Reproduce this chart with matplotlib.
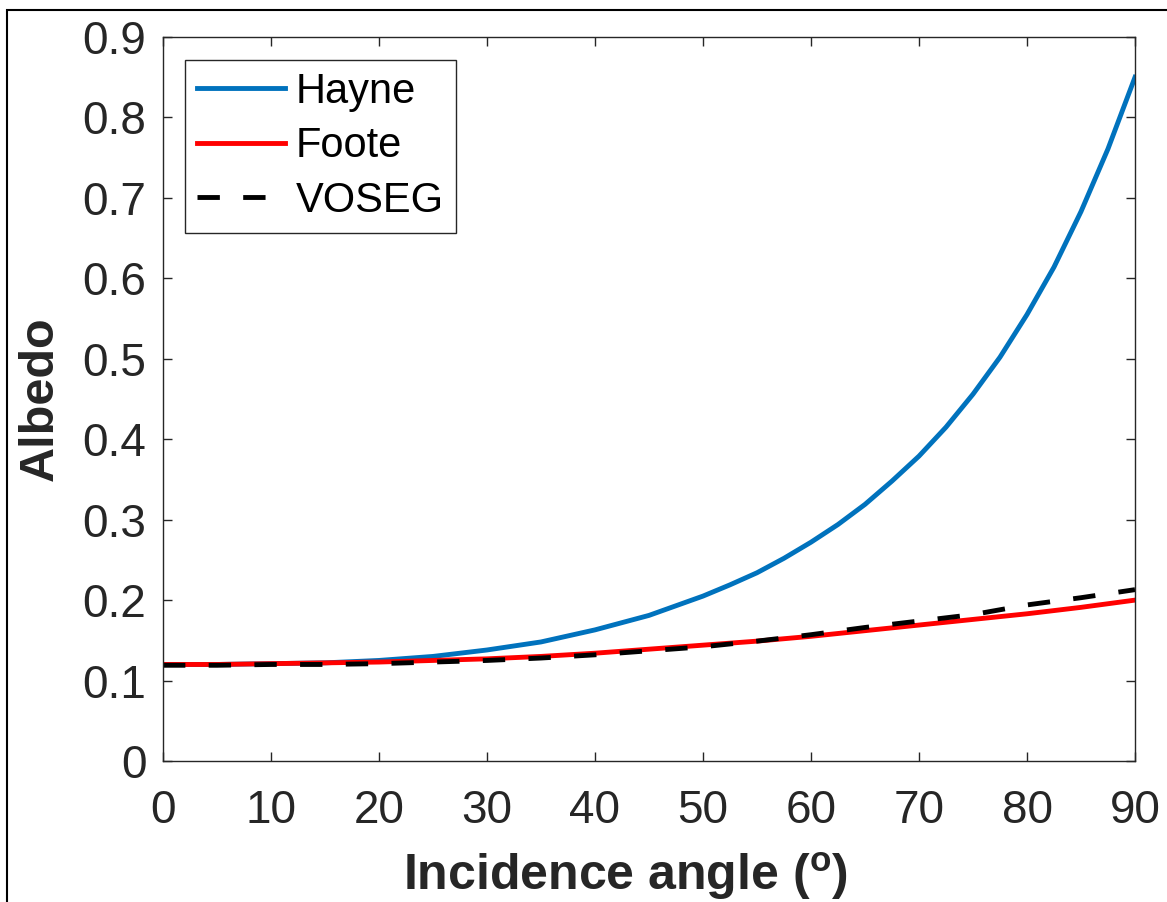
import matplotlib.pyplot as plt
from matplotlib.patches import Rectangle

plt.rcParams['font.family'] = ['Liberation Sans', 'DejaVu Sans']
plt.rcParams['mathtext.fontset'] = 'custom'
plt.rcParams['mathtext.bf'] = 'Liberation Sans:bold'
plt.rcParams['mathtext.rm'] = 'Liberation Sans'

# Incidence angle (deg) and albedo curves
angle = [0, 5, 10, 15, 20, 25, 30, 35, 40, 45, 50, 55, 60, 65, 70, 75, 80, 85, 90]
foote = [0.120, 0.120, 0.121, 0.122, 0.123, 0.125, 0.127, 0.130, 0.134, 0.139,
         0.144, 0.149, 0.155, 0.162, 0.169, 0.176, 0.183, 0.191, 0.200]
voseg = [0.119, 0.119, 0.120, 0.120, 0.121, 0.123, 0.125, 0.128, 0.132, 0.137,
         0.142, 0.149, 0.157, 0.166, 0.174, 0.182, 0.194, 0.203, 0.213]

# Hayne rises steeply, so it is read at a finer step
hayne_angle = [0, 5, 10, 15, 20, 25, 30, 35, 40, 45, 50, 52.5, 55, 57.5, 60,
               62.5, 65, 67.5, 70, 72.5, 75, 77.5, 80, 82.5, 85, 87.5, 90]
hayne = [0.120, 0.120, 0.121, 0.122, 0.125, 0.130, 0.138, 0.148, 0.163, 0.181,
         0.205, 0.219, 0.234, 0.252, 0.272, 0.294, 0.319, 0.348, 0.379, 0.415,
         0.456, 0.502, 0.555, 0.614, 0.683, 0.761, 0.850]

yticks = [0, 0.1, 0.2, 0.3, 0.4, 0.5, 0.6, 0.7, 0.8, 0.9]
xticks = [0, 10, 20, 30, 40, 50, 60, 70, 80, 90]

dark = '#262626'

fig = plt.figure(figsize=(11.67, 9.02), dpi=100)
ax = fig.add_axes([163 / 1167, 1 - 761 / 902, 972 / 1167, 724 / 902])

ax.plot(hayne_angle, hayne, color='#0072BD', linewidth=3.5, label='Hayne')
ax.plot(angle, foote, color='#FF0000', linewidth=3.5, label='Foote')
ax.plot(angle, voseg, color='black', linewidth=3.5, dashes=(4.6, 4.8), label='VOSEG')

ax.set_xlim(0, 90)
ax.set_ylim(0, 0.9)
ax.set_xticks(xticks)
ax.set_yticks(yticks)
ax.set_xticklabels([str(t) for t in xticks])
ax.set_yticklabels(['0'] + [f'{t:.1f}' for t in yticks[1:]])

for s in ax.spines.values():
    s.set_color(dark)
    s.set_linewidth(1.0)
ax.tick_params(direction='in', length=6.5, width=1.0, colors=dark,
               labelsize=33, top=True, right=True)
ax.tick_params(axis='x', pad=20)
ax.tick_params(axis='y', pad=12)

ax.set_xlabel(r'Incidence angle ($^{\mathbf{o}}$)', fontsize=36,
              fontweight='bold', color=dark)
ax.xaxis.set_label_coords(0.476, -0.178)
ax.xaxis.label.set_va('baseline')
ax.set_ylabel('Albedo', fontsize=35, fontweight='bold', color=dark)
ax.yaxis.set_label_coords(-0.1265, 0.5)
ax.yaxis.label.set_va('center')

leg = ax.legend(loc='upper left', bbox_to_anchor=(0.0226, 0.968),
                borderaxespad=0, fontsize=30, handlelength=2.13,
                handletextpad=0.25, labelspacing=0.35, borderpad=0.28,
                fancybox=False, framealpha=1)
leg.get_frame().set_edgecolor(dark)
leg.get_frame().set_linewidth(1.0)

# outer frame around the figure
fig.patches.append(Rectangle((7 / 1167, -0.1), 1.2, 1 - 10 / 902 + 0.1,
                             transform=fig.transFigure, fill=False,
                             edgecolor='black', linewidth=1.5, clip_on=False))

fig.savefig('out.png', dpi=100)
